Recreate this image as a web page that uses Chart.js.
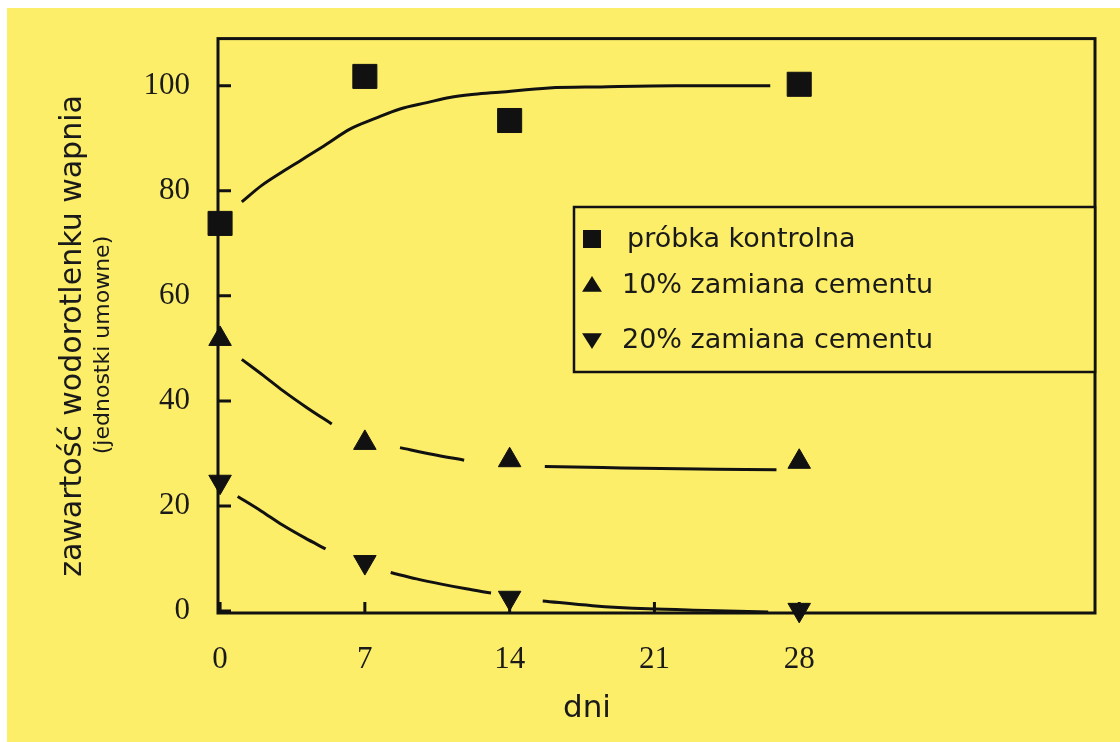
<!DOCTYPE html>
<html lang="pl">
<head>
<meta charset="utf-8">
<title>Wodorotlenek wapnia</title>
<script src="https://cdn.jsdelivr.net/npm/chart.js@4.4.1/dist/chart.umd.min.js"></script>
<style>
  html, body { margin: 0; padding: 0; background: #fff; }
  canvas { display: block; }
</style>
</head>
<body>
<canvas id="wykres" width="1120" height="742"></canvas>
<script>
const dni = [0, 7, 14, 28];
const probkaKontrolna = [73.8, 101.8, 93.4, 100.3];
const zamiana10 = [51.8, 32.0, 28.7, 28.4];
const zamiana20 = [24.6, 9.3, 2.5, 0.2];

// krzywe dopasowania (null = przerwa w linii)
const krzywaKontrolnaDni = [1.05, 2, 3, 3.9, 5, 6.3, 7.5, 8.7, 10, 11.1, 12.3, 13.5, 15.9, 18.4, 22, 26.6];
const krzywaKontrolna = [77.9, 81.0, 83.6, 85.8, 88.5, 91.8, 93.8, 95.6, 96.8, 97.8, 98.4, 98.8, 99.6, 99.8, 100, 100];

const krzywa10Dni = [1.05, 2.1, 3.05, 4.2, 5.4, 7, 8.7, 10.3, 11.8, 14, 15.7, 18.5, 21.3, 24, 26.9];
const krzywa10 = [47.9, 44.8, 41.9, 38.7, 35.6, null, 31.1, 29.8, 28.7, null, 27.5, 27.3, 27.1, 27.0, 26.9];

const krzywa20Dni = [0.85, 2, 3, 4.1, 5.1, 7, 8.25, 9.5, 10.7, 11.9, 13.1, 14, 15.6, 18, 20.7, 23.5, 26.5];
const krzywa20 = [21.8, 19.0, 16.4, 13.9, 11.8, null, 7.3, 6.1, 5.1, 4.2, 3.4, null, 1.9, 1.0, 0.4, 0.1, -0.2];

const etykietySerii = ["próbka kontrolna", "10% zamiana cementu", "20% zamiana cementu"];
const stylePunktow = ["rect", "triangle", "triangleDown"];
const tickiX = [0, 7, 14, 21, 28];
const tickiY = [0, 20, 40, 60, 80, 100];
const tytulY = "zawartość wodorotlenku wapnia";
const podtytulY = "(jednostki umowne)";
const tytulX = "dni";

const ZOLTY = "#fcee68";
const CZARNY = "#111";

function punkty(xs, ys) {
  return xs.map((x, i) => ({ x, y: ys[i] }));
}

function rysujZnacznik(ctx, styl, x, y, r) {
  ctx.beginPath();
  if (styl === "rect") {
    ctx.rect(x - r, y - r, 2 * r, 2 * r);
  } else if (styl === "triangle") {
    ctx.moveTo(x, y - r);
    ctx.lineTo(x + r * 1.1, y + r * 0.75);
    ctx.lineTo(x - r * 1.1, y + r * 0.75);
  } else {
    ctx.moveTo(x, y + r);
    ctx.lineTo(x + r * 1.1, y - r * 0.75);
    ctx.lineTo(x - r * 1.1, y - r * 0.75);
  }
  ctx.closePath();
  ctx.fill();
}

const tloPlugin = {
  id: "tlo",
  beforeDraw(chart) {
    const { ctx, width, height } = chart;
    ctx.save();
    ctx.fillStyle = "#fff";
    ctx.fillRect(0, 0, width, height);
    ctx.fillStyle = ZOLTY;
    ctx.fillRect(7, 8, width - 7, height - 8);
    ctx.restore();
  },
};

// ramka wykresu i krotkie kreski podzialki skierowane do srodka
const ramkaPlugin = {
  id: "ramka",
  beforeDatasetsDraw(chart) {
    const { ctx, chartArea: a, scales } = chart;
    ctx.save();
    ctx.strokeStyle = CZARNY;
    ctx.lineWidth = 3;
    ctx.strokeRect(a.left, a.top, a.right - a.left, a.bottom - a.top);
    ctx.beginPath();
    for (const v of tickiY) {
      const y = scales.y.getPixelForValue(v);
      ctx.moveTo(a.left, y);
      ctx.lineTo(a.left + 13, y);
    }
    for (const v of tickiX) {
      const x = scales.x.getPixelForValue(v);
      ctx.moveTo(x, a.bottom);
      ctx.lineTo(x, a.bottom - 11);
    }
    ctx.stroke();
    ctx.restore();
  },
};

const opisyPlugin = {
  id: "opisy",
  afterDraw(chart) {
    const { ctx, chartArea: a } = chart;
    ctx.save();
    ctx.fillStyle = "#1a1a1a";
    ctx.textAlign = "center";
    ctx.textBaseline = "middle";

    ctx.save();
    ctx.translate(73, 336);
    ctx.rotate(-Math.PI / 2);
    ctx.font = "30px 'DejaVu Sans'";
    ctx.fillText(tytulY, 0, 0);
    ctx.restore();

    ctx.save();
    ctx.translate(103, 345);
    ctx.rotate(-Math.PI / 2);
    ctx.font = "22px 'DejaVu Sans'";
    ctx.fillText(podtytulY, 0, 0);
    ctx.restore();

    ctx.font = "31px 'DejaVu Sans'";
    ctx.fillText(tytulX, 587, 709);

    // legenda
    const lx = 574, ly = 207, lh = 165;
    ctx.fillStyle = ZOLTY;
    ctx.fillRect(lx, ly, a.right - lx, lh);
    ctx.strokeStyle = CZARNY;
    ctx.lineWidth = 2.5;
    ctx.strokeRect(lx, ly, a.right - lx, lh);

    const wiersze = [239, 285, 340];
    const startTekstu = [627, 622, 622];
    ctx.textAlign = "left";
    ctx.font = "27px 'DejaVu Sans'";
    etykietySerii.forEach((txt, i) => {
      ctx.fillStyle = CZARNY;
      rysujZnacznik(ctx, stylePunktow[i], 592, wiersze[i], 9);
      ctx.fillStyle = "#1a1a1a";
      ctx.fillText(txt, startTekstu[i], wiersze[i] + 1);
    });
    ctx.restore();
  },
};

function znaczniki(label, ys, styl, r, obrot) {
  return {
    label,
    data: punkty(dni, ys),
    showLine: false,
    pointStyle: styl,
    pointRadius: r,
    pointRotation: obrot,
    backgroundColor: CZARNY,
    borderColor: CZARNY,
    borderWidth: 1,
    clip: false,
  };
}

function krzywa(xs, ys) {
  return {
    label: "",
    data: punkty(xs, ys),
    showLine: true,
    pointRadius: 0,
    borderColor: CZARNY,
    borderWidth: 3,
    fill: false,
    tension: 0.4,
    cubicInterpolationMode: "monotone",
    spanGaps: false,
  };
}

const czcionkaTickow = { family: "'Liberation Serif', 'Times New Roman', serif", size: 31 };

new Chart(document.getElementById("wykres").getContext("2d"), {
  type: "scatter",
  plugins: [tloPlugin, ramkaPlugin, opisyPlugin],
  data: {
    datasets: [
      krzywa(krzywaKontrolnaDni, krzywaKontrolna),
      krzywa(krzywa10Dni, krzywa10),
      krzywa(krzywa20Dni, krzywa20),
      znaczniki(etykietySerii[0], probkaKontrolna, "rect", 17, 0),
      znaczniki(etykietySerii[1], zamiana10, "triangle", 13, 0),
      znaczniki(etykietySerii[2], zamiana20, "triangle", 13, 180),
    ],
  },
  options: {
    responsive: false,
    animation: false,
    events: [],
    layout: { padding: { top: 33, right: 25, left: 0, bottom: 0 } },
    plugins: {
      legend: { display: false },
      tooltip: { enabled: false },
    },
    scales: {
      x: {
        type: "linear",
        min: -0.1,
        max: 42.3,
        afterBuildTicks: (s) => { s.ticks = tickiX.map((v) => ({ value: v })); },
        afterFit: (s) => { s.height = 129; },
        grid: { display: false },
        border: { display: false },
        ticks: { font: czcionkaTickow, color: "#1a1a1a", padding: 20, maxRotation: 0, autoSkip: false },
      },
      y: {
        min: -0.4,
        max: 109,
        afterBuildTicks: (s) => { s.ticks = tickiY.map((v) => ({ value: v })); },
        afterFit: (s) => { s.width = 218; },
        grid: { display: false },
        border: { display: false },
        ticks: { font: czcionkaTickow, color: "#1a1a1a", padding: 20 },
      },
    },
  },
});
</script>
</body>
</html>
